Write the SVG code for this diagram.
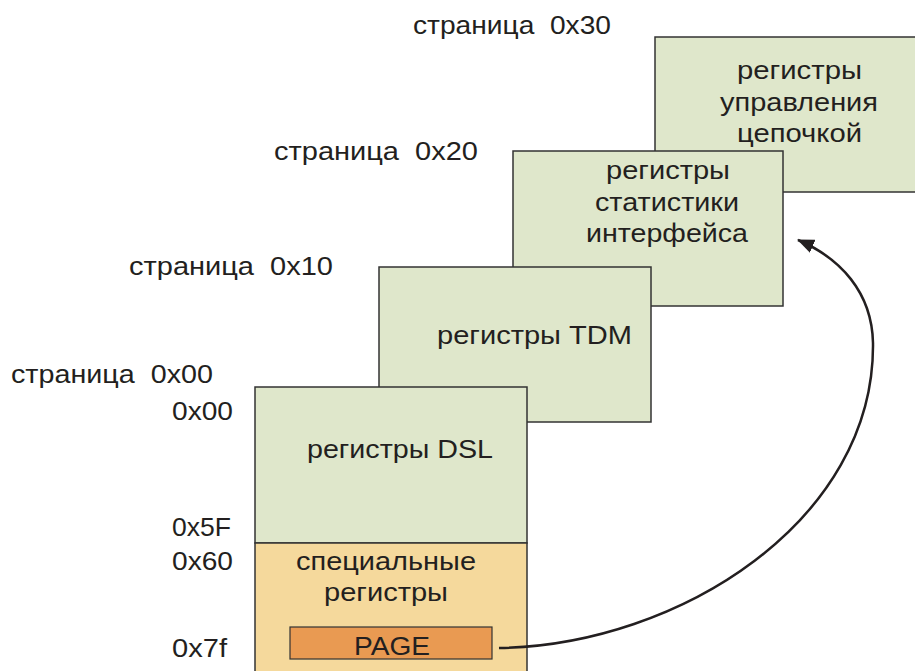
<svg xmlns="http://www.w3.org/2000/svg" width="915" height="671" viewBox="0 0 915 671">
<defs>
<style>
text{font-family:"Liberation Sans",Arial,sans-serif;font-size:25px;fill:#231f20;white-space:pre}
.pg{fill:#dfe7cb;stroke:#333;stroke-width:1.5}
.sp{fill:#f5d99c;stroke:#333;stroke-width:1.5}
.pb{fill:#e99a52;stroke:#333;stroke-width:1.2}
.conn{fill:none;stroke:#231f20;stroke-width:2.5}
</style>
<marker id="ah" markerWidth="17" markerHeight="14" refX="16" refY="7" orient="auto" markerUnits="userSpaceOnUse" viewBox="0 0 17 14">
<path d="M0,0 L17,7 L0,14 Z" fill="#231f20"/>
</marker>
</defs>
<rect width="915" height="671" fill="#fff"/>

<g id="labels">
<text x="413" y="34" textLength="198" lengthAdjust="spacingAndGlyphs" xml:space="preserve">страница  0x30</text>
<text x="274" y="160" textLength="204" lengthAdjust="spacingAndGlyphs" xml:space="preserve">страница  0x20</text>
<text x="129" y="275" textLength="204" lengthAdjust="spacingAndGlyphs" xml:space="preserve">страница  0x10</text>
<text x="11" y="383" textLength="202" lengthAdjust="spacingAndGlyphs" xml:space="preserve">страница  0x00</text>
<text x="172" y="420" textLength="61" lengthAdjust="spacingAndGlyphs">0x00</text>
<text x="172" y="536" textLength="59" lengthAdjust="spacingAndGlyphs">0x5F</text>
<text x="172" y="570" textLength="61" lengthAdjust="spacingAndGlyphs">0x60</text>
<text x="172" y="657" textLength="55" lengthAdjust="spacingAndGlyphs">0x7f</text>
</g>

<g id="page30">
<rect class="pg" x="655" y="37" width="275" height="155"/>
<text x="737" y="79" textLength="125" lengthAdjust="spacingAndGlyphs">регистры</text>
<text x="720" y="111" textLength="158" lengthAdjust="spacingAndGlyphs">управления</text>
<text x="737" y="142" textLength="125" lengthAdjust="spacingAndGlyphs">цепочкой</text>
</g>

<g id="page20">
<rect class="pg" x="513" y="151" width="270" height="155"/>
<text x="606" y="179" textLength="124" lengthAdjust="spacingAndGlyphs">регистры</text>
<text x="595" y="211" textLength="144" lengthAdjust="spacingAndGlyphs">статистики</text>
<text x="586" y="242" textLength="162" lengthAdjust="spacingAndGlyphs">интерфейса</text>
</g>

<g id="page10">
<rect class="pg" x="379" y="267" width="272" height="155"/>
<text x="437" y="344" textLength="195" lengthAdjust="spacingAndGlyphs">регистры TDM</text>
</g>

<g id="page00">
<rect class="pg" x="255" y="387" width="272" height="156"/>
<text x="307" y="458" textLength="186" lengthAdjust="spacingAndGlyphs">регистры DSL</text>
</g>

<g id="special">
<rect class="sp" x="255" y="543" width="272" height="140"/>
<text x="296" y="570" textLength="180" lengthAdjust="spacingAndGlyphs">специальные</text>
<text x="324" y="601" textLength="124" lengthAdjust="spacingAndGlyphs">регистры</text>
</g>

<g id="page-reg">
<rect class="pb" x="290" y="627" width="202" height="32"/>
<text x="354" y="655" textLength="76" lengthAdjust="spacingAndGlyphs">PAGE</text>
</g>

<g id="connectors">
<path class="conn" d="M499,648 C680,645 875,520 873,343 C872,292 840,258 798,240" marker-end="url(#ah)"/>
</g>
</svg>
